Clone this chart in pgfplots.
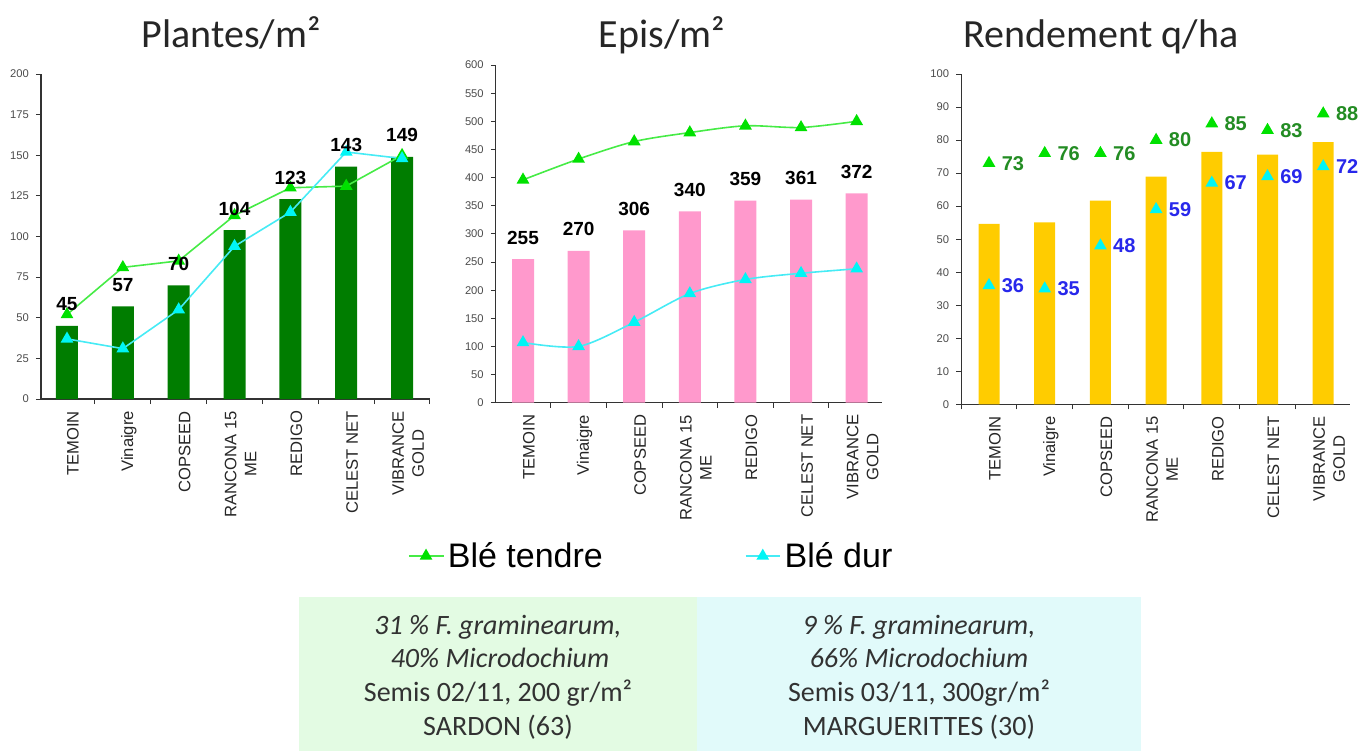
\documentclass[border=0pt]{standalone}
\usepackage{pgfplots}
\pgfplotsset{compat=1.18}
\usepackage{fontspec}
\setmainfont{Liberation Sans}
\newfontfamily\calfont{Carlito}
\definecolor{bargreen}{RGB}{0,125,0}
\definecolor{barpink}{RGB}{255,153,204}
\definecolor{bargold}{RGB}{255,204,0}
\definecolor{tline}{RGB}{70,235,70}
\definecolor{tmark}{RGB}{0,225,0}
\definecolor{dline}{RGB}{70,235,245}
\definecolor{dmark}{RGB}{0,245,245}
\definecolor{tlab}{RGB}{35,140,35}
\definecolor{dlab}{RGB}{40,40,235}
\definecolor{boxg}{RGB}{227,251,227}
\definecolor{boxc}{RGB}{225,250,250}
\definecolor{boxtext}{RGB}{50,50,50}

\pgfplotsset{
  mychart/.style={
    scale only axis, anchor=origin, clip=false,
    axis lines*=left,
    axis line style={black!80, line width=0.6pt},
    tick align=outside,
    major tick length=2.5pt, minor tick length=2.5pt,
    tick style={black!80, line width=0.5pt},
    major x tick style={draw=none},
    xtick={0,...,6},
    minor xtick={-0.5,0.5,...,6.5},
    xticklabels={TEMOIN, Vinaigre, COPSEED, {RANCONA 15\\ME}, REDIGO, CELEST NET, {VIBRANCE\\GOLD}},
    xticklabel style={rotate=90, anchor=east, align=center, font=\fontsize{8.3}{10}\selectfont, text=black!85, yshift=-3pt},
    yticklabel style={font=\fontsize{5.6}{6}\selectfont, text=black!70},
    ymin=0,
    /pgf/number format/assume math mode=true,
  },
  tendre/.style={color=tline, line width=0.8pt, mark=triangle*, mark size=2.9pt, mark options={fill=tmark, draw=tmark, solid}},
  dur/.style={color=dline, line width=0.8pt, mark=triangle*, mark size=2.9pt, mark options={fill=dmark, draw=dmark, solid}},
  barlab/.style={draw=none, forget plot, nodes near coords,
    every node near coord/.append style={anchor=south, inner sep=0pt, yshift=7.2pt, font=\bfseries\fontsize{9.5}{10}\selectfont, text=black}},
}

\begin{document}
\begin{tikzpicture}
\path[use as bounding box] (0,0) rectangle (679.5pt,-375.5pt);

% ---------- Chart 1: Plantes/m2
\begin{axis}[mychart, at={(33.5pt,-199.5pt)},
  width=194.5pt, height=162.5pt,
  xmin=-0.466, xmax=6.5, ymax=200, ytick={0,25,...,200}]
\addplot[ybar, bar width=11pt, fill=bargreen, draw=none, forget plot]
  coordinates {(0,45) (1,57) (2,70) (3,104) (4,123) (5,143) (6,149)};
\addplot[tendre] coordinates {(0,52) (1,81) (2,85) (3,113) (4,130) (5,131) (6,150)};
\addplot[dur] coordinates {(0,37) (1,31) (2,55) (3,94) (4,115) (5,152) (6,148)};
\addplot[barlab] coordinates {(0,45) (1,57) (2,70) (3,104) (4,123) (5,143) (6,149)};
\end{axis}

% ---------- Chart 2: Epis/m2
\begin{axis}[mychart, at={(261.5pt,-201.35pt)},
  width=192.95pt, height=168.85pt,
  xmin=-0.49, xmax=6.45, ymax=600, ytick={0,50,...,600},
  legend columns=2,
  legend style={draw=none, fill=none, inner sep=0pt, at={(-0.228,-0.454)}, anchor=west,
    font=\fontsize{17}{20}\selectfont,
    /tikz/every even column/.append style={column sep=69pt}},
  ]
\addplot[ybar, bar width=11pt, fill=barpink, draw=none, forget plot]
  coordinates {(0,255) (1,270) (2,306) (3,340) (4,359) (5,361) (6,372)};
\addplot[tendre, smooth] coordinates {(0,396) (1,433) (2,464) (3,480) (4,492) (5,489) (6,500)};
\addlegendentry{Blé tendre}
\addplot[dur, smooth] coordinates {(0,107) (1,100) (2,143) (3,194) (4,219) (5,230) (6,238)};
\addlegendentry{Blé dur}
\addplot[barlab] coordinates {(0,255) (1,270) (2,306) (3,340) (4,359) (5,361) (6,372)};
\end{axis}

% ---------- Chart 3: Rendement q/ha
\begin{axis}[mychart, at={(494.5pt,-202.15pt)},
  width=194.4pt, height=165.15pt,
  xmin=-0.5, xmax=6.48, ymax=100, ytick={0,10,...,100}]
\addplot[ybar, bar width=10.5pt, fill=bargold, draw=none, forget plot]
  coordinates {(0,54.6) (1,55.1) (2,61.7) (3,68.9) (4,76.4) (5,75.6) (6,79.4)};
\addplot[tendre, only marks, nodes near coords,
  every node near coord/.append style={anchor=west, inner sep=0pt, xshift=6pt, font=\bfseries\fontsize{10}{11}\selectfont, text=tlab}]
  coordinates {(0,73) (1,76) (2,76) (3,80) (4,85) (5,83) (6,88)};
\addplot[dur, only marks, nodes near coords,
  every node near coord/.append style={anchor=west, inner sep=0pt, xshift=6pt, font=\bfseries\fontsize{10}{11}\selectfont, text=dlab}]
  coordinates {(0,36) (1,35) (2,48) (3,59) (4,67) (5,69) (6,72)};
\end{axis}

\begin{scope}[x=0.5pt,y=-0.5pt]
% titles
\node[anchor=base, inner sep=0pt, font=\calfont\fontsize{20}{24}\selectfont, text=black!85] at (231,47) {Plantes/m²};
\node[anchor=base, inner sep=0pt, font=\calfont\fontsize{20}{24}\selectfont, text=black!85] at (662,47) {Epis/m²};
\node[anchor=base, inner sep=0pt, font=\calfont\fontsize{20}{24}\selectfont, text=black!85] at (1101,47) {Rendement q/ha};
% boxes
\fill[boxg] (299,597) rectangle (697,751);
\fill[boxc] (697,597) rectangle (1141,751);
\begin{scope}[every node/.style={anchor=base, inner sep=0pt, text=boxtext, font=\calfont\fontsize{14}{16}\selectfont}]
\node at (498,634) {\itshape 31 \% F. graminearum,};
\node at (500,667) {\itshape 40\% Microdochium};
\node at (498,701) {Semis 02/11, 200 gr/m²};
\node at (498,735) {SARDON (63)};
\node at (919,634) {\itshape 9 \% F. graminearum,};
\node at (919,667) {\itshape 66\% Microdochium};
\node at (919,701) {Semis 03/11, 300gr/m²};
\node at (919,735) {MARGUERITTES (30)};
\end{scope}
\end{scope}
\end{tikzpicture}
\end{document}
